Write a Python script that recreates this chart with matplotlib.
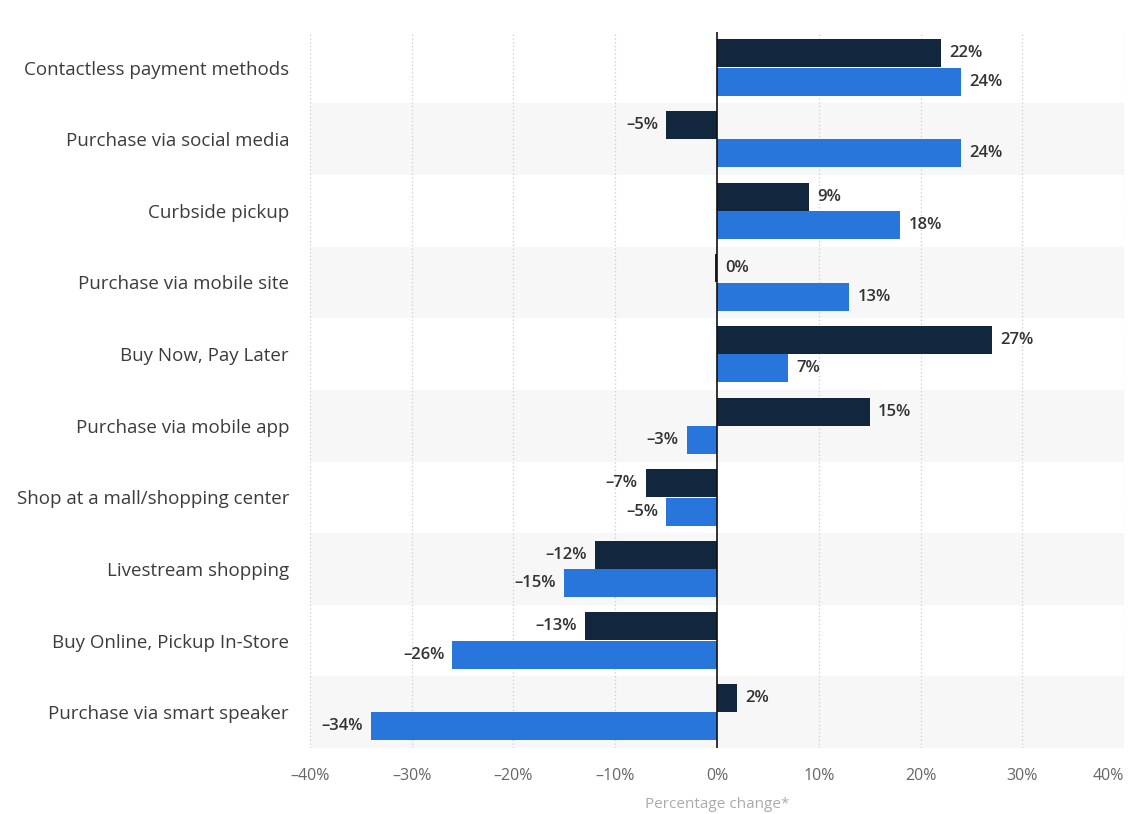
import numpy as np
import matplotlib.pyplot as plt

categories = [
    "Contactless payment methods",
    "Purchase via social media",
    "Curbside pickup",
    "Purchase via mobile site",
    "Buy Now, Pay Later",
    "Purchase via mobile app",
    "Shop at a mall/shopping center",
    "Livestream shopping",
    "Buy Online, Pickup In-Store",
    "Purchase via smart speaker",
]
series_dark = [22, -5, 9, -0.2, 27, 15, -7, -12, -13, 2]
series_blue = [24, 24, 18, 13, 7, -3, -5, -15, -26, -34]
x_ticks = [-40, -30, -20, -10, 0, 10, 20, 30, 40]

DARK = "#12263d"
BLUE = "#2875dc"
FONT = "Open Sans"

plt.rcParams['font.family'] = [FONT, 'DejaVu Sans']

fig = plt.figure(figsize=(11.31, 8.14), dpi=100)
ax = fig.add_axes([0.274, 0.081, 0.720, 0.880])

y = np.arange(len(categories))
h = 0.39

# alternating row bands
for i in y:
    if i % 2 == 1:
        ax.axhspan(i - 0.5, i + 0.5, color="#f7f7f7", zorder=0, lw=0)

ax.barh(y - 0.198, series_dark, height=h, color=DARK, zorder=3)
ax.barh(y + 0.198, series_blue, height=h, color=BLUE, zorder=3)

def label(vals, offs):
    for yi, v in zip(y, vals):
        r = int(round(v))
        txt = f"{r}%".replace("-", "\u2013")
        if r >= 0:
            ax.text(max(v, 0) + 0.8, yi + offs, txt, va="center", ha="left",
                    fontsize=12, fontweight="semibold", color="#333333", zorder=4)
        else:
            ax.text(v - 0.8, yi + offs, txt, va="center", ha="right",
                    fontsize=12, fontweight="semibold", color="#333333", zorder=4)

label(series_dark, -0.198)
label(series_blue, 0.198)

ax.axvline(0, color="#111111", lw=1.2, zorder=5)
for t in x_ticks:
    if t != 0:
        ax.axvline(t, color="#cccccc", lw=0.9, ls=(0, (1, 2)), zorder=1)

ax.set_xlim(-40, 40)
ax.set_ylim(len(categories) - 0.5, -0.5)
ax.set_xticks(x_ticks)
ax.set_xticklabels([f"{t}%".replace("-", "\u2013") for t in x_ticks],
                   fontsize=11.5, color="#666666")
ax.get_xticklabels()[-1].set_horizontalalignment("right")
ax.set_yticks(y)
ax.set_yticklabels(categories, fontsize=13.5, color="#3c3c3c")
ax.tick_params(axis="both", length=0)
ax.tick_params(axis="x", pad=14)
ax.tick_params(axis="y", pad=15)
ax.set_xlabel("Percentage change*", fontsize=11, color="#aaaaaa", labelpad=10)
for s in ax.spines.values():
    s.set_visible(False)

fig.savefig("out.png", dpi=100)
